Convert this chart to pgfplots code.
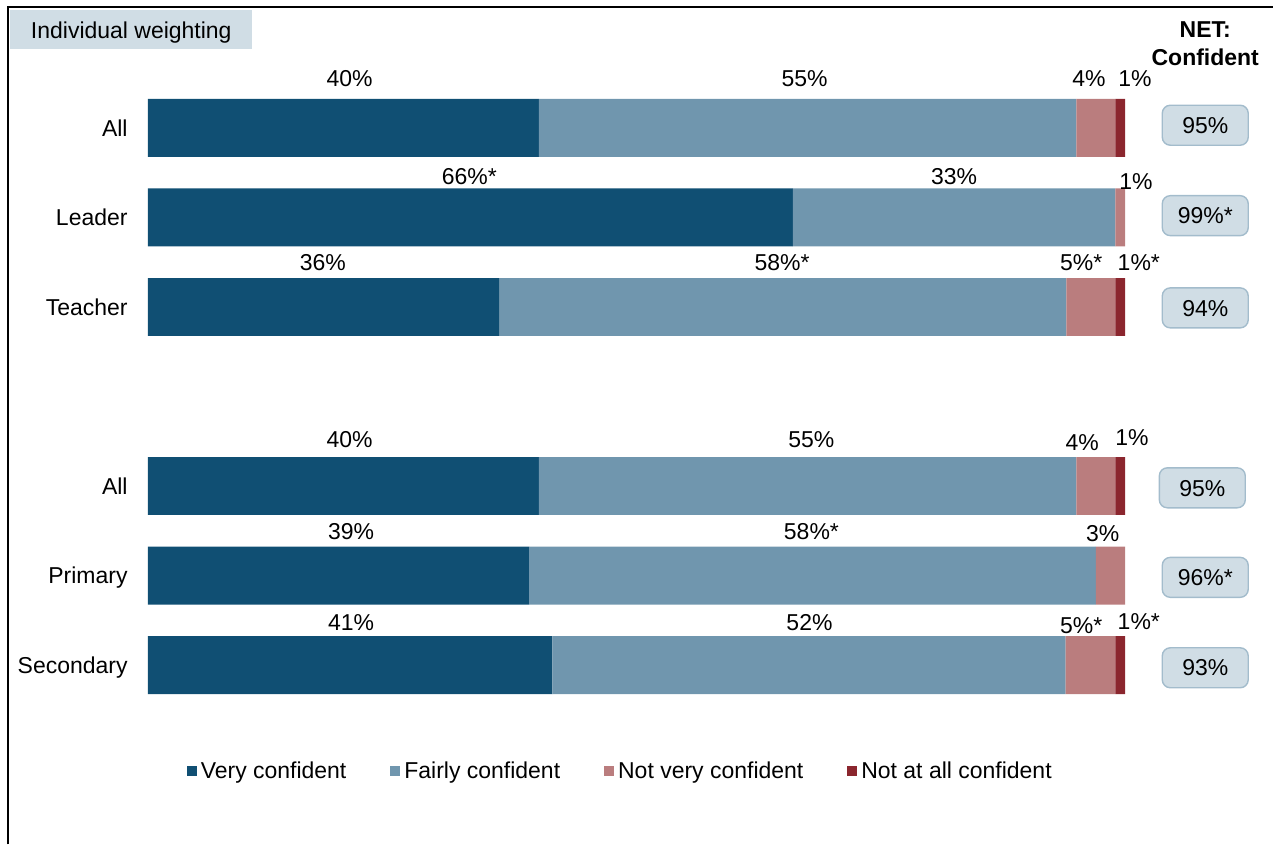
\documentclass[border=0pt]{standalone}
\usepackage{pgfplots}
\pgfplotsset{compat=1.18}
\usepackage{fontspec}
\setmainfont{Liberation Sans}
\definecolor{vc}{HTML}{104F73}
\definecolor{fc}{HTML}{7096AE}
\definecolor{nv}{HTML}{BA7D7E}
\definecolor{na}{HTML}{8B262E}
\definecolor{netf}{HTML}{D0DDE5}
\definecolor{netb}{HTML}{A3BCCC}
\newcommand\fs{\fontsize{11.5pt}{14pt}\selectfont}

\pgfplotsset{
  seg/.style={xbar stacked, draw=none, fill=#1,
    legend image code/.code={\fill[#1] (-2pt,-2.5pt) rectangle (3pt,2.5pt);}},
  lbl/.style={only marks, mark=none, forget plot, nodes near coords,
    point meta=explicit symbolic,
    nodes near coords style={anchor=center, font=\fs, inner sep=0pt,
      text height=8.2pt, text depth=0pt}},
}

\begin{document}
\begin{tikzpicture}
\begin{axis}[
    scale only axis, width=637pt, height=422.5pt,
    xmin=-15.133, xmax=115.133, ymin=-2.002, ymax=7.429,
    hide axis, clip=false,
    bar width=0.647,
    legend columns=4,
    legend style={at={(rel axis cs:0.488,0.0864)}, anchor=center,
      draw=none, fill=none, font=\fs,
      /tikz/every even column/.append style={column sep=20pt}},
]
\path (rel axis cs:0,0) rectangle (rel axis cs:1,1);

% rows: 6 All, 5 Leader, 4 Teacher, 2 All, 1 Primary, 0 Secondary
\addplot[seg=vc] coordinates {(40,6) (66,5) (36,4) (40,2) (39,1) (41.4,0)};
\addlegendentry{Very confident}
\addplot[seg=fc] coordinates {(55,6) (33,5) (58,4) (55,2) (58,1) (52.5,0)};
\addlegendentry{Fairly confident}
\addplot[seg=nv] coordinates {(4,6) (1,5) (5,4) (4,2) (3,1) (5.1,0)};
\addlegendentry{Not very confident}
\addplot[seg=na] coordinates {(1,6) (0,5) (1,4) (1,2) (0,1) (1,0)};
\addlegendentry{Not at all confident}

% value labels
\addplot[lbl] coordinates {
  (20.65,6.558) [40\%] (67.2,6.558) [55\%] (96.3,6.55) [4\%] (101.0,6.55) [1\%]
  (32.9,5.464) [66\%*] (82.5,5.464) [33\%] (101.1,5.40) [1\%]
  (17.9,4.494) [36\%] (64.9,4.494) [58\%*] (95.5,4.494) [5\%*] (101.4,4.494) [1\%*]
  (20.65,2.518) [40\%] (67.9,2.518) [55\%] (95.6,2.484) [4\%] (100.7,2.54) [1\%]
  (20.8,1.489) [39\%] (67.9,1.489) [58\%*] (97.7,1.474) [3\%]
  (20.8,0.48) [41\%] (67.7,0.48) [52\%] (95.5,0.442) [5\%*] (101.4,0.487) [1\%*]
};

% row labels
\addplot[lbl, nodes near coords style={anchor=east}] coordinates {
  (-2.04,6) [All] (-2.04,5) [Leader] (-2.04,4) [Teacher]
  (-2.04,2) [All] (-2.04,1) [Primary] (-2.04,0) [Secondary]
};

% NET: Confident
\addplot[lbl, nodes near coords style={draw=netb, fill=netf, line width=0.7pt,
    rounded corners=4pt, minimum width=43pt, minimum height=20pt}] coordinates {
  (108.2,6.03) [95\%] (108.2,5.02) [99\%*] (108.2,3.99) [94\%]
  (107.9,1.98) [95\%] (108.2,0.98) [96\%*] (108.2,-0.03) [93\%]
};

\node[font=\fs\bfseries, align=center] at (axis cs:108.2,6.9375) {NET:\\Confident};
\node[fill=netf, minimum width=121pt, minimum height=19.5pt, inner sep=0pt,
  text height=8.2pt, text depth=0pt,
  anchor=north west, font=\fs] at (rel axis cs:0.00785,0.98817) {Individual weighting};
\draw[line width=1pt] (rel axis cs:0.00628,0) -- (rel axis cs:0.00628,0.99172)
  -- (rel axis cs:1,0.99172);
\end{axis}
\end{tikzpicture}
\end{document}
